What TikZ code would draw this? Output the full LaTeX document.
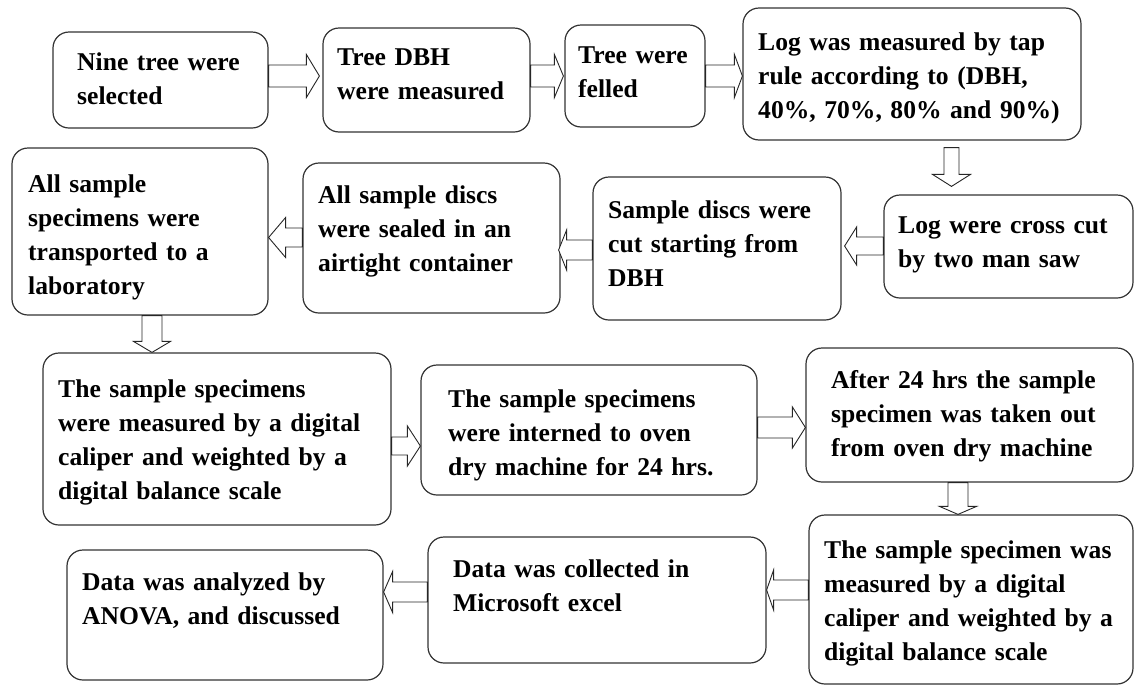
\documentclass[tikz,border=0pt]{standalone}
\usepackage{fontspec}
\setmainfont{Liberation Serif}
\usetikzlibrary{calc}
\tikzset{
  box/.style={draw=black!80, line width=1.2pt, rounded corners=16pt, inner sep=0pt, fill=white},
  txt/.style={anchor=base west, inner sep=0pt, text width=#1, align=left,
    font=\fontsize{25.6}{34}\selectfont\bfseries},
  txt/.default=340pt,
  blk/.style={draw=black!85, line width=0.9pt, fill=white, line join=miter}
}
% horizontal block arrow: #1 base coord, #2 tip coord, #3 y centre (px), #4 shaft half, #5 head half, #6 signed head length
\newcommand{\harr}[6]{\draw[blk] let \p1=(#1), \p2=(#2) in
 (\x1,{-(#3-#4)*1pt}) -- ({\x2-(#6)*1pt},{-(#3-#4)*1pt}) -- ({\x2-(#6)*1pt},{-(#3-#5)*1pt}) --
 (\x2,{-(#3)*1pt}) -- ({\x2-(#6)*1pt},{-(#3+#5)*1pt}) -- ({\x2-(#6)*1pt},{-(#3+#4)*1pt}) --
 (\x1,{-(#3+#4)*1pt}) -- cycle;}
% vertical (downward) block arrow: #1 base coord, #2 tip coord, #3 x centre (px), #4 shaft half, #5 head half, #6 head length
\newcommand{\varr}[6]{\draw[blk] let \p1=(#1), \p2=(#2) in
 ({(#3-#4)*1pt},\y1) -- ({(#3-#4)*1pt},{\y2+(#6)*1pt}) -- ({(#3-#5)*1pt},{\y2+(#6)*1pt}) --
 ({(#3)*1pt},\y2) -- ({(#3+#5)*1pt},{\y2+(#6)*1pt}) -- ({(#3+#4)*1pt},{\y2+(#6)*1pt}) --
 ({(#3+#4)*1pt},\y1) -- cycle;}
\begin{document}
\begin{tikzpicture}[x=1pt,y=1pt]
\useasboundingbox (0,0) rectangle (1135,-686);
% boxes
\node[box, minimum width=215pt, minimum height=96pt]  (b1)  at (160.5,-80)  {};
\node[box, minimum width=207pt, minimum height=104pt] (b2)  at (426.5,-80)  {};
\node[box, minimum width=140pt, minimum height=102pt] (b3)  at (635,-76)    {};
\node[box, minimum width=338pt, minimum height=132pt] (b4)  at (912,-74)    {};
\node[box, minimum width=249pt, minimum height=103pt] (b5)  at (1008.5,-246.5) {};
\node[box, minimum width=248pt, minimum height=143pt] (b6)  at (717,-248.5) {};
\node[box, minimum width=257pt, minimum height=150pt] (b7)  at (431.5,-238) {};
\node[box, minimum width=256pt, minimum height=167pt] (b8)  at (140,-231.5) {};
\node[box, minimum width=348pt, minimum height=172pt] (b9)  at (217,-439)   {};
\node[box, minimum width=336pt, minimum height=130pt] (b10) at (589,-430)   {};
\node[box, minimum width=338pt, minimum height=126pt] (b11) at (597,-600)   {};
\node[box, minimum width=316pt, minimum height=130pt] (b12) at (225,-615)   {};
\node[box, minimum width=327pt, minimum height=134pt] (b13) at (969.5,-415) {};
\node[box, minimum width=324pt, minimum height=169pt] (b14) at (971,-599.5) {};
% texts
\node[txt] (t1)  at (77,-70)   {Nine tree were\\selected};
\node[txt] (t2)  at (337,-65)  {Tree DBH\\were measured};
\node[txt] (t3)  at (578,-63)  {Tree were\\felled};
\node[txt] (t4)  at (758,-50)  {Log was measured by tap\\rule according to (DBH,\\40\%, 70\%, 80\% and 90\%)};
\node[txt] (t5)  at (898,-233) {Log were cross cut\\by two man saw};
\node[txt] (t6)  at (608,-218) {Sample discs were\\cut starting from\\DBH};
\node[txt] (t7)  at (318,-203) {All sample discs\\were sealed in an\\airtight container};
\node[txt] (t8)  at (28,-192)  {All sample\\specimens were\\transported to a\\laboratory};
\node[txt] (t9)  at (58,-397)  {The sample specimens\\were measured by a digital\\caliper and weighted by a\\digital balance scale};
\node[txt] (t10) at (448,-407) {The sample specimens\\were interned to oven\\dry machine for 24 hrs.};
\node[txt] (t11) at (453,-577) {Data was collected in\\Microsoft excel};
\node[txt] (t12) at (82,-590)  {Data was analyzed by\\ANOVA, and discussed};
\node[txt] (t13) at (831,-388) {After 24 hrs the sample\\specimen was taken out\\from oven dry machine};
\node[txt] (t14) at (824,-558) {The sample specimen was\\measured by a digital\\caliper and weighted by a\\digital balance scale};
% arrows
\harr{b1.east}{$(b2.west)+(-3,0)$}{76}{11}{21.5}{13}
\harr{b2.east}{$(b3.west)+(-1,0)$}{76}{11}{21.5}{9}
\harr{b3.east}{b4.west}{76}{11}{21.5}{8}
\varr{$(b4.south)+(0,-7)$}{$(b5.north)+(0,8)$}{951.5}{7.5}{19}{12}
\harr{b5.west}{$(b6.east)+(3,0)$}{246}{9}{19}{-12}
\harr{b6.west}{$(b7.east)+(-2,0)$}{250}{10}{20}{-8}
\harr{b7.west}{b8.east}{237.5}{9.5}{20}{-17}
\varr{b8.south}{b9.north}{152}{10}{18.5}{11}
\harr{b9.east}{b10.west}{446}{9}{20}{13}
\harr{b10.east}{b13.west}{427.5}{10.5}{20.5}{13}
\varr{b13.south}{b14.north}{958}{10}{18.5}{8}
\harr{b14.west}{b11.east}{590}{10}{20}{-7}
\harr{b11.west}{b12.east}{592}{10}{20.5}{-9}
\end{tikzpicture}
\end{document}
